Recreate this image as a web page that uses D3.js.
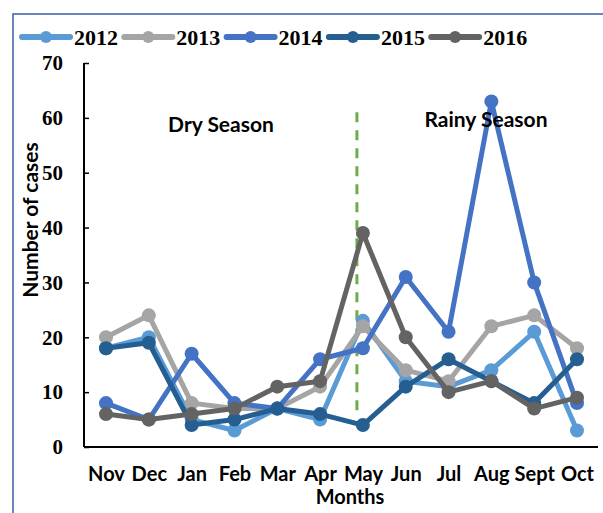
<!DOCTYPE html>
<html><head><meta charset="utf-8">
<script src="https://cdn.jsdelivr.net/npm/d3@7"></script>
<style>body{margin:0;background:#fff}svg{display:block}</style>
</head><body>
<script>
const months = ["Nov","Dec","Jan","Feb","Mar","Apr","May","Jun","Jul","Aug","Sept","Oct"];
const years = ["2012","2013","2014","2015","2016"];
const s2012 = [18,20,5,3,7,5,23,12,11,14,21,3];
const s2013 = [20,24,8,7,7,11,22,14,12,22,24,18];
const s2014 = [8,5,17,8,7,16,18,31,21,63,30,8];
const s2015 = [18,19,4,5,7,6,4,11,16,12,8,16];
const s2016 = [6,5,6,7,11,12,39,20,10,12,7,9];
const colors = ["#5B9BD5","#A5A5A5","#4472C4","#255E91","#636363"];
const yTicks = [0,10,20,30,40,50,60,70];
const seasonLabels = ["Dry Season","Rainy Season"];
const series = [s2012,s2013,s2014,s2015,s2016];

const W=603,H=513;
const svg=d3.select("body").append("svg").attr("width",W).attr("height",H);
svg.append("rect").attr("x",13).attr("y",14).attr("width",W).attr("height",H)
  .attr("fill","none").attr("stroke","#3B5EA6").attr("stroke-width",1.5);

const x=d3.scalePoint().domain(months).range([106,577]);
const y=d3.scaleLinear().domain([0,70]).range([447,63]);
const serif="'Liberation Serif', 'DejaVu Serif', serif";
const sans="Lato, 'Open Sans', sans-serif";

// y axis
const ya=svg.append("g").attr("transform","translate(84,0)")
  .call(d3.axisLeft(y).tickValues(yTicks).tickSize(-5).tickPadding(21));
ya.select(".domain").attr("d","M0,63V447").attr("stroke","#000").attr("stroke-width",2);
ya.selectAll(".tick line").attr("stroke","#000").attr("stroke-width",1.5);
ya.selectAll("text").attr("font-family",serif).attr("font-weight","bold").attr("font-size",21).attr("fill","#000");

// x axis
const xa=svg.append("g").attr("transform","translate(0,447)")
  .call(d3.axisBottom(x).tickSize(0).tickPadding(20));
xa.select(".domain").attr("d","M84,0H598").attr("stroke","#000").attr("stroke-width",2);
xa.selectAll("text").attr("font-family",sans).attr("font-weight","bold").attr("font-size",20).attr("fill","#000");

svg.append("text").attr("x",350).attr("y",504).attr("text-anchor","middle")
  .attr("font-family",sans).attr("font-weight","bold").attr("font-size",20).text("Months");
svg.append("text").attr("transform","translate(38,220) rotate(-90)").attr("text-anchor","middle")
  .attr("font-family",sans).attr("font-weight","bold").attr("font-size",21).text("Number of cases");

// dashed divider
const dx=x("May")-6;
svg.append("line").attr("x1",dx).attr("x2",dx).attr("y1",y(61)).attr("y2",y(6.5))
  .attr("stroke","#70AD47").attr("stroke-width",3).attr("stroke-dasharray","10,8");

const line=d3.line().x((d,i)=>x(months[i])).y(d=>y(d));
series.forEach((s,k)=>{
  const g=svg.append("g");
  g.append("path").attr("d",line(s)).attr("fill","none").attr("stroke",colors[k]).attr("stroke-width",5).attr("stroke-linejoin","round");
  g.selectAll("circle").data(s).join("circle").attr("cx",(d,i)=>x(months[i])).attr("cy",d=>y(d)).attr("r",7).attr("fill",colors[k]);
});

svg.append("text").attr("x",221).attr("y",132).attr("text-anchor","middle")
  .attr("font-family",sans).attr("font-weight","bold").attr("font-size",21).text(seasonLabels[0]);
svg.append("text").attr("x",486).attr("y",127).attr("text-anchor","middle")
  .attr("font-family",sans).attr("font-weight","bold").attr("font-size",21).text(seasonLabels[1]);

// legend
const lg=svg.append("g");
years.forEach((yr,k)=>{
  const x0=22+k*102.3;
  lg.append("line").attr("x1",x0).attr("x2",x0+48).attr("y1",37).attr("y2",37).attr("stroke",colors[k]).attr("stroke-width",6).attr("stroke-linecap","round");
  lg.append("circle").attr("cx",x0+24).attr("cy",37).attr("r",6).attr("fill",colors[k]);
  lg.append("text").attr("x",x0+52).attr("y",45).attr("font-family",serif).attr("font-weight","bold").attr("font-size",22).text(yr);
});
</script>
</body></html>
